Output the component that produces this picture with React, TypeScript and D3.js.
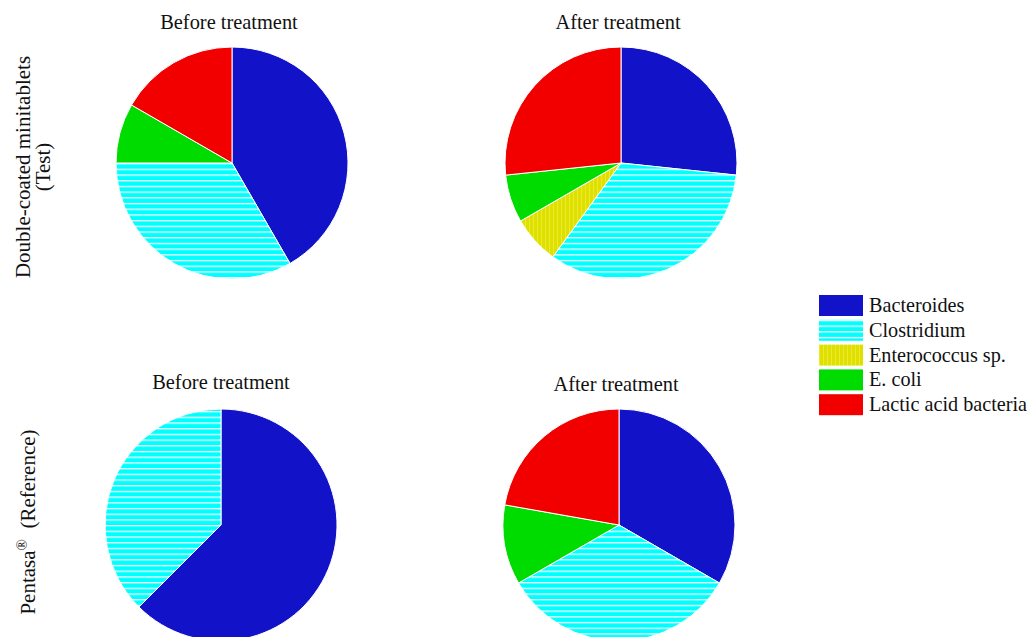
import React from "react";
import * as d3 from "d3";

const categories = ["Bacteroides", "Clostridium", "Enterococcus sp.", "E. coli", "Lactic acid bacteria"];
const testBefore = [5, 4, 0, 1, 2];
const testAfter = [4, 5, 1, 1, 4];
const refBefore = [5, 3, 0, 0, 0];
const refAfter = [6, 6, 0, 2, 4];
const panelTitles = ["Before treatment", "After treatment", "Before treatment", "After treatment"];

const fills = ["#1212C8", "url(#pat-clos)", "url(#pat-ent)", "#00DC00", "#F20000"];

const W = 1032;
const H = 637;
const R = 116;
const FONT = "'Liberation Serif', 'Times New Roman', serif";

const panels = [
  { values: testBefore, cx: 232, cy: 163, tx: 229, ty: 29, title: panelTitles[0] },
  { values: testAfter, cx: 621, cy: 163, tx: 618, ty: 29, title: panelTitles[1] },
  { values: refBefore, cx: 221, cy: 525, tx: 221, ty: 389, title: panelTitles[2] },
  { values: refAfter, cx: 619, cy: 525, tx: 616, ty: 391, title: panelTitles[3] },
];

export default function App() {
  const pie = d3
    .pie<number>()
    .sort(null)
    .value((d) => d)
    .startAngle(0)
    .endAngle(2 * Math.PI);
  const arc = d3.arc<d3.PieArcDatum<number>>().innerRadius(0).outerRadius(R);

  return (
    <svg
      width={W}
      height={H}
      style={{ position: "absolute", left: 0, top: 0, background: "#fff" }}
      fontFamily={FONT}
    >
      <defs>
        <pattern id="pat-clos" patternUnits="userSpaceOnUse" width={8} height={5.7}>
          <rect width={8} height={5.7} fill="#00FFFF" />
          <rect y={0} width={8} height={1.3} fill="#FFFFFF" />
        </pattern>
        <pattern id="pat-ent" patternUnits="userSpaceOnUse" width={4} height={8}>
          <rect width={4} height={8} fill="#E0E000" />
          <rect x={0} width={1} height={8} fill="#EAEA30" />
        </pattern>
      </defs>

      {panels.map((p, pi) => {
        const arcs = pie(p.values);
        return (
          <g key={pi}>
            <text x={p.tx} y={p.ty} textAnchor="middle" fontSize={20.4} fill="#111">
              {p.title}
            </text>
            <g transform={`translate(${p.cx},${p.cy})`}>
              {arcs
                .filter((a) => a.value > 0)
                .map((a) => (
                  <path
                    key={a.index}
                    d={arc(a) || ""}
                    fill={fills[a.index]}
                    stroke="#FFFFFF"
                    strokeWidth={1}
                  />
                ))}
            </g>
          </g>
        );
      })}

      {/* row labels */}
      <g transform="translate(30,167) rotate(-90)">
        <text x={0} y={0} textAnchor="middle" fontSize={21} fill="#111">
          Double-coated minitablets
        </text>
        <text x={0} y={20} textAnchor="middle" fontSize={21} fill="#111">
          (Test)
        </text>
      </g>
      <g transform="translate(35,522) rotate(-90)">
        <text x={0} y={0} textAnchor="middle" fontSize={21} fill="#111">
          Pentasa
          <tspan fontSize={15} dy={-8}>®</tspan>
          <tspan dy={8}>{"\u00A0\u00A0(Reference)"}</tspan>
        </text>
      </g>

      {/* legend */}
      <g>
        {categories.map((c, i) => (
          <g key={c} transform={`translate(819,${295 + i * 24.8})`}>
            <rect width={44} height={21} fill={fills[i]} />
            <text x={50} y={17} fontSize={20.2} fill="#111">
              {c}
            </text>
          </g>
        ))}
      </g>
    </svg>
  );
}
